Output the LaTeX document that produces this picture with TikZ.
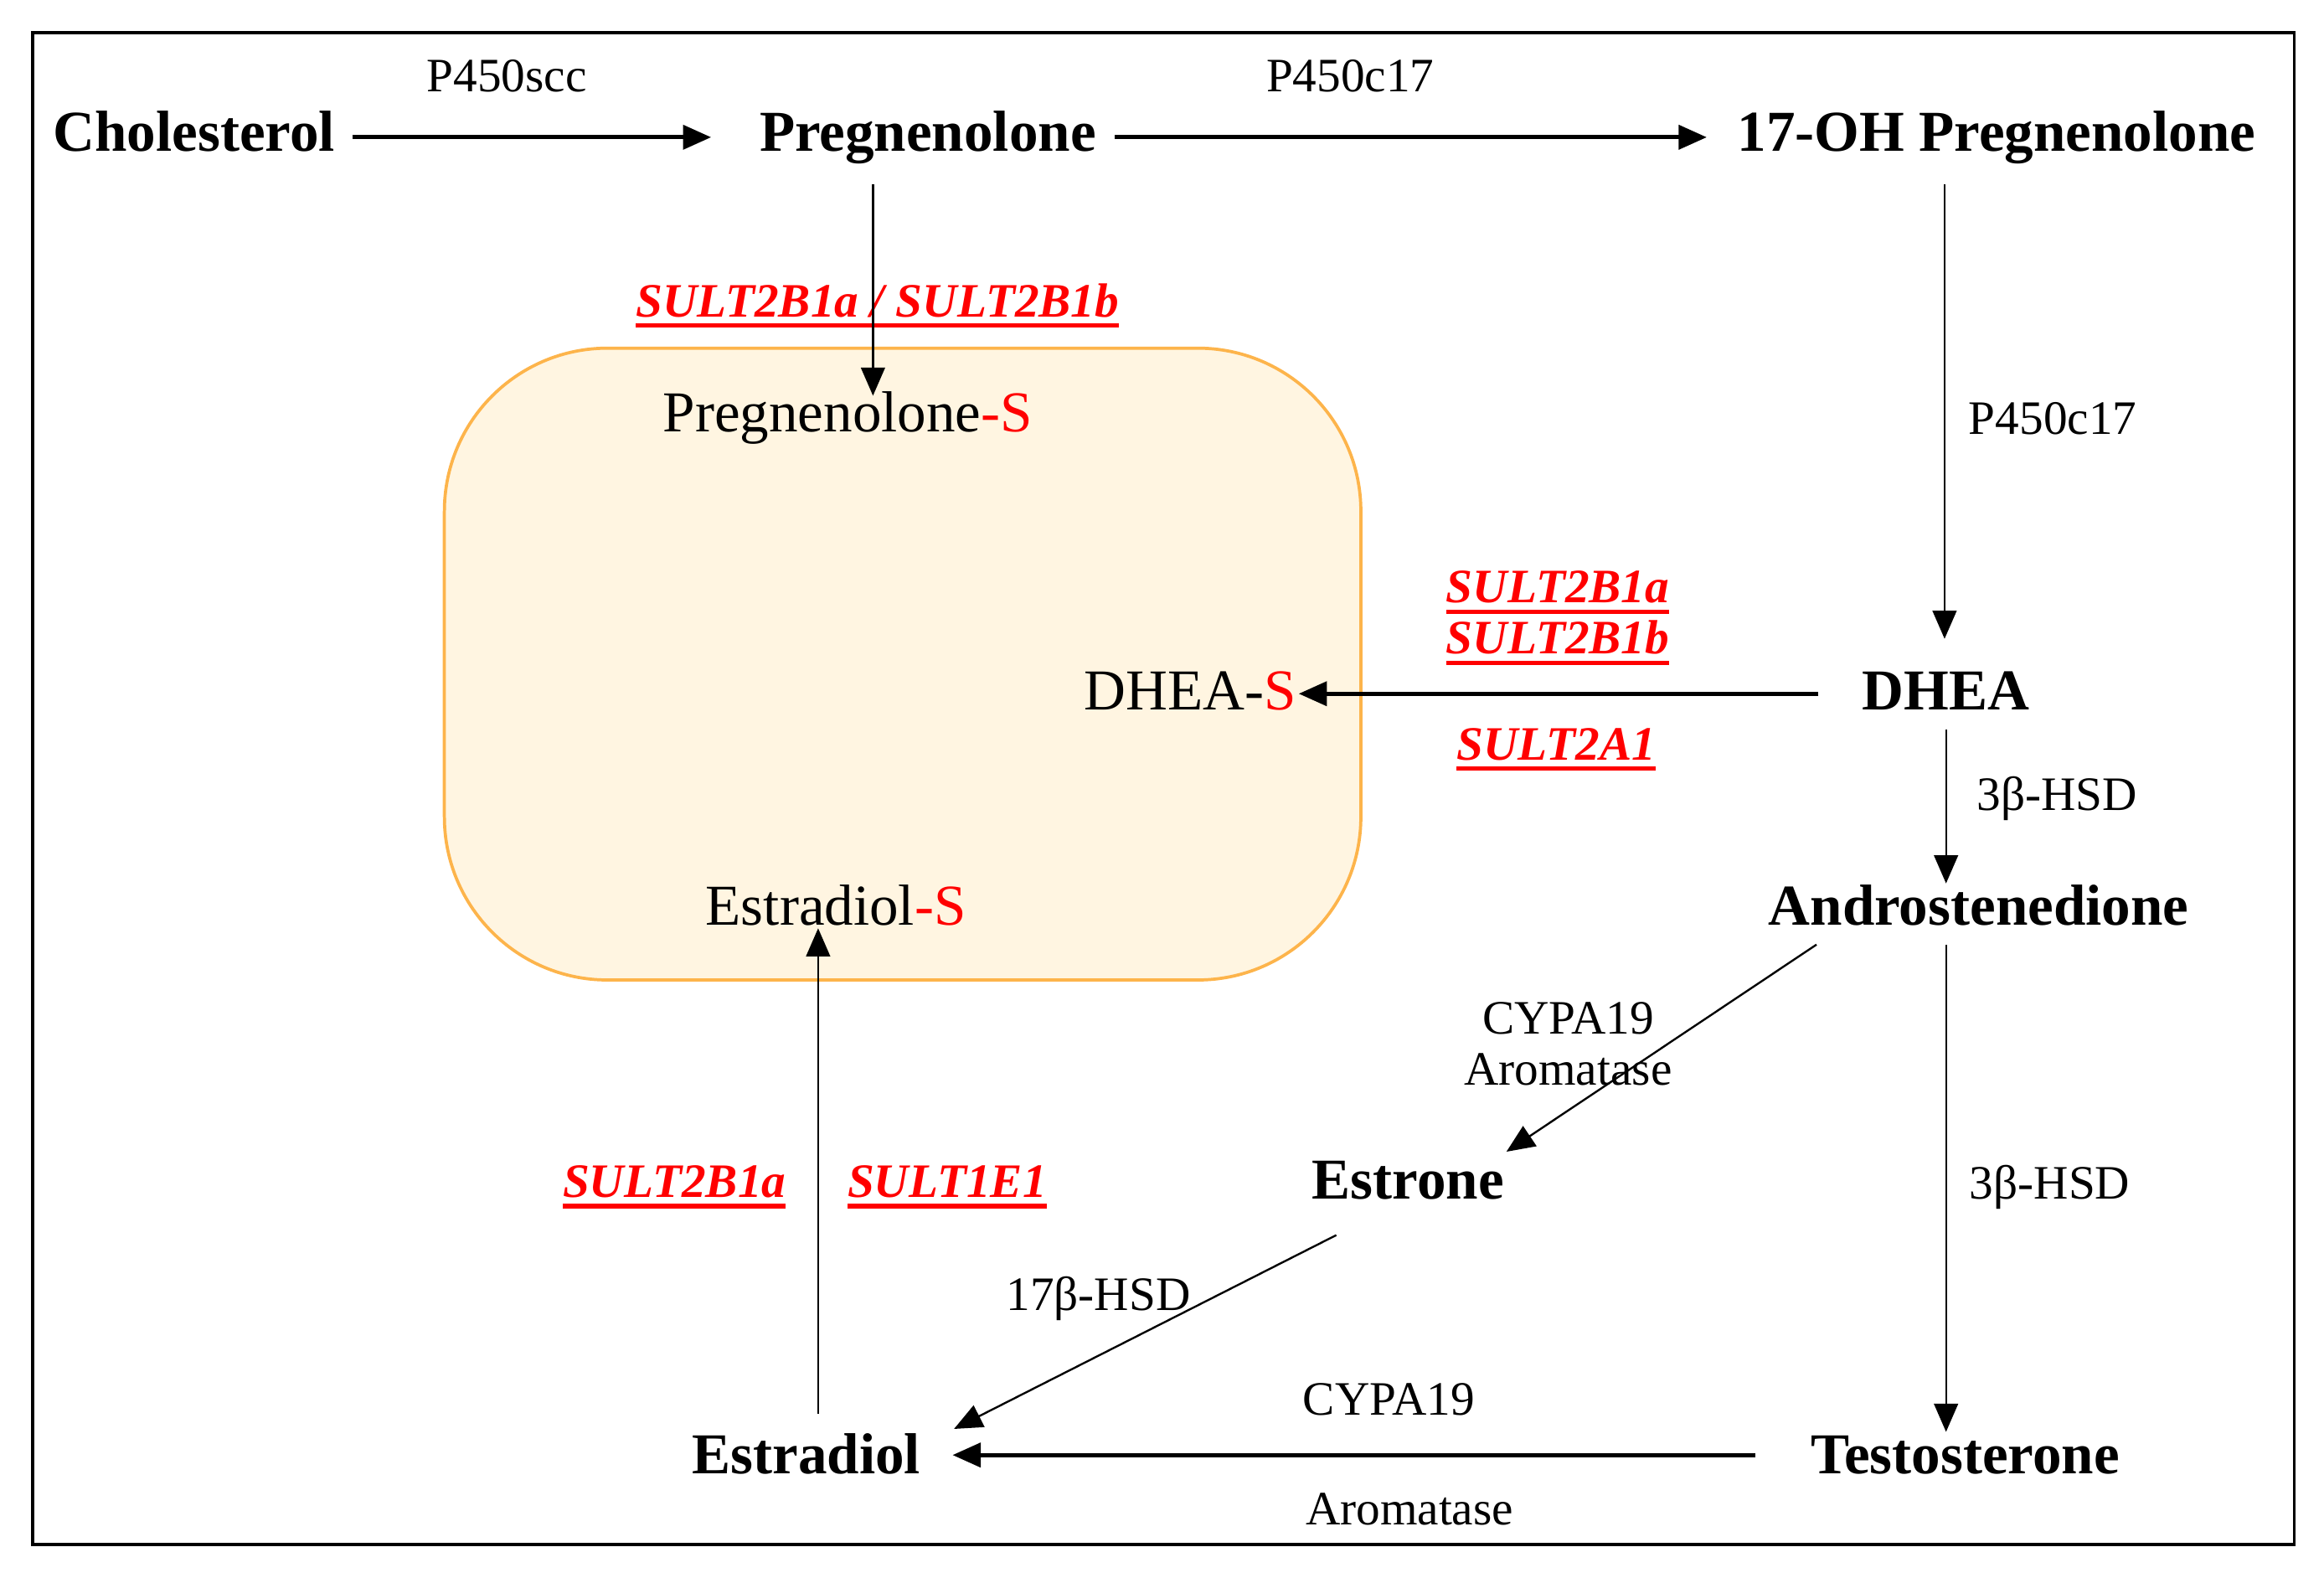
\documentclass[tikz,border=0pt]{standalone}
\usepackage{fontspec}
\setmainfont{Liberation Serif}
\usepackage{tikz}
\usepackage{xcolor}
\definecolor{SultRed}{HTML}{FF0000}
\definecolor{CellFill}{HTML}{FFF5E1}
\definecolor{CellEdge}{HTML}{FDB44B}
\usetikzlibrary{arrows.meta, positioning, calc}
\newcommand{\sultline}[1]{\setbox0\hbox{#1}\rlap{\copy0}\rule[-2.1pt]{\wd0}{0.85pt}}

\begin{document}
\begin{tikzpicture}[x=0.01cm, y=-0.01cm,
    compound/.style={font=\fontsize{11.1}{13}\selectfont\bfseries, text height=7.8pt, text depth=2.4pt, inner sep=0pt},
    sulfate/.style={font=\fontsize{11.1}{13}\selectfont, text height=7.8pt, text depth=2.4pt, inner sep=0pt},
    enzyme/.style={font=\fontsize{9.2}{11}\selectfont, text height=6.4pt, text depth=2pt, inner sep=0pt},
    sult/.style={font=\fontsize{9.2}{11}\selectfont\bfseries\itshape, text=SultRed, text height=6.4pt, text depth=2pt, inner sep=0pt},
    thinarrow/.style={-{Triangle[length=5.4pt, width=4.6pt]}, line width=0.38pt},
    thickarrow/.style={-{Triangle[length=5.4pt, width=4.6pt]}, line width=0.8pt}]
    \useasboundingbox (0,0) rectangle (1568,1064);
    \draw[line width=0.55pt] (22,22) rectangle (1548,1042);

    % Sulfate pool
    \node (pool) [draw=CellEdge, fill=CellFill, line width=0.6pt, rounded corners=1.1cm,
        minimum width=6.18cm, minimum height=4.26cm] at (609,448) {};

    % Compounds
    \node (chol) [compound] at (131,92.6) {Cholesterol};
    \node (preg) [compound] at (626,92.6) {Pregnenolone};
    \node (ohpreg) [compound] at (1347,92.6) {17-OH Pregnenolone};
    \node (dhea) [compound] at (1313,469.6) {DHEA};
    \node (andro) [compound] at (1335,614.6) {Androstenedione};
    \node (estrone) [compound] at (950,799.6) {Estrone};
    \node (estradiol) [compound] at (544,984.6) {Estradiol};
    \node (testo) [compound] at (1326,984.6) {Testosterone};

    \node (pregS) [sulfate] at (572,281.6) {Pregnenolone\textcolor{SultRed}{-S}};
    \node (dheaS) [sulfate] at (803,469.6) {DHEA-\textcolor{SultRed}{S}};
    \node (estradiolS) [sulfate] at (564,614.6) {Estradiol\textcolor{SultRed}{-S}};

    % Enzymes
    \node (scc) [enzyme] at (342,54) {P450scc};
    \node (c17top) [enzyme] at (911,54) {P450c17};
    \node (c17right) [enzyme] at (1385,285) {P450c17};
    \node (hsdtop) [enzyme] at (1388,539) {3β-HSD};
    \node (cyptop) [enzyme] at (1058,690) {CYPA19};
    \node (aromtop) [enzyme, below=1pt of cyptop] {Aromatase};
    \node (hsdright) [enzyme] at (1383,801) {3β-HSD};
    \node (hsd17) [enzyme] at (741,876) {17β-HSD};
    \node (cypbottom) [enzyme] at (937,947) {CYPA19};
    \node (arombottom) [enzyme] at (951,1021) {Aromatase};

    % Sulfotransferases
    \node (sultpreg) [sult] at (592,206) {\sultline{SULT2B1a / SULT2B1b}};
    \node (sultdheaA) [sult] at (1051,399) {\sultline{SULT2B1a}};
    \node (sultdheaB) [sult, below=1pt of sultdheaA] {\sultline{SULT2B1b}};
    \node (sultdheaC) [sult] at (1050,505) {\sultline{SULT2A1}};
    \node (sultestA) [sult] at (455,800) {\sultline{SULT2B1a}};
    \node (sultestB) [sult] at (639,800) {\sultline{SULT1E1}};

    % Reactions
    \draw[thickarrow] ($(chol.east)+(11,0)$) -- ($(preg.west)+(-32,0)$);
    \draw[thickarrow] ($(preg.east)+(12,0)$) -- ($(ohpreg.west)+(-20,0)$);
    \draw[thinarrow] ($(preg.south)+(-37,13)$) -- ($(pregS.north)+(17,4)$);
    \draw[thinarrow] ($(ohpreg.south)+(-35,13)$) -- ($(dhea.north)+(-1,-20)$);
    \draw[thickarrow] ($(dhea.west)+(-29,-1.6)$) -- ($(dheaS.east)+(1,-1.6)$);
    \draw[thinarrow] ($(dhea.south)+(0,4)$) -- (dhea.south |- andro.north);
    \draw[thinarrow] ($(andro.south -| dhea.south)+(0,4)$) -- (testo.north -| dhea.south);
    \draw[thinarrow] ($(andro.south west)+(33,4)$) -- ($(estrone.north east)+(1,-4)$);
    \draw[thinarrow] ($(estrone.south west)+(17,15)$) -- ($(estradiol.north east)+(22,-2)$);
    \draw[thickarrow] ($(testo.west)+(-37,-3)$) -- ($(estradiol.east)+(21,-3)$);
    \draw[thinarrow] ($(estradiol.north)+(8,-12)$) -- ($(estradiolS.south)+(-12,-7)$);
\end{tikzpicture}
\end{document}
